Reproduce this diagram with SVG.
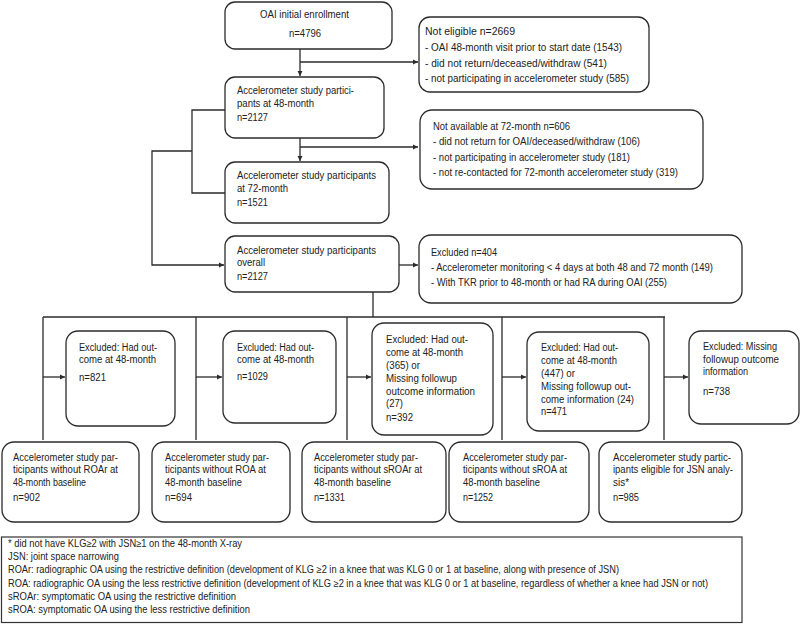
<svg xmlns="http://www.w3.org/2000/svg" width="800" height="625" viewBox="0 0 800 625">
<style>
.box{fill:#fff;stroke:#2b2b2b;stroke-width:1.3}
.t{font-family:"Liberation Sans",Arial,sans-serif;font-size:10px;fill:#222}
.fn{font-family:"Liberation Sans",Arial,sans-serif;font-size:10px;fill:#222}
.c{fill:none;stroke:#2b2b2b;stroke-width:1.3}
</style>
<defs>
<marker id="ah" markerUnits="userSpaceOnUse" markerWidth="6" markerHeight="6" refX="5" refY="3" orient="auto">
<path d="M0,0.5 L5,3 L0,5.5 Z" fill="#2b2b2b"/>
</marker>
</defs>
<rect width="800" height="625" fill="#fff"/>

<g id="connectors">
<path class="c" d="M300,49 V76" marker-end="url(#ah)"/>
<path class="c" d="M300,62 H418" marker-end="url(#ah)"/>
<path class="c" d="M300,138 V161" marker-end="url(#ah)"/>
<path class="c" d="M300,147 H418" marker-end="url(#ah)"/>
<path class="c" d="M225,110 H192 V193 H225"/>
<path class="c" d="M192,151 H152 V265 H224" marker-end="url(#ah)"/>
<path class="c" d="M399,265 H418" marker-end="url(#ah)"/>
<path class="c" d="M373,292 V317"/>
<path class="c" d="M43,317 H665"/>
<path class="c" d="M43,317 V440"/>
<path class="c" d="M196,317 V440"/>
<path class="c" d="M347,317 V440"/>
<path class="c" d="M502,317 V440"/>
<path class="c" d="M664,317 V440"/>
<path class="c" d="M43,377 H65" marker-end="url(#ah)"/>
<path class="c" d="M196,377 H222" marker-end="url(#ah)"/>
<path class="c" d="M347,377 H371" marker-end="url(#ah)"/>
<path class="c" d="M502,377 H526" marker-end="url(#ah)"/>
<path class="c" d="M664,377 H688" marker-end="url(#ah)"/>
</g>

<g id="n-enroll">
<rect class="box" x="225" y="2" width="167" height="47" rx="10"/>
<text class="t" x="260" y="18" textLength="89" lengthAdjust="spacingAndGlyphs">OAI initial enrollment</text>
<text class="t" x="289" y="37" textLength="32" lengthAdjust="spacingAndGlyphs">n=4796</text>
</g>

<g id="n-48">
<rect class="box" x="225" y="77" width="159" height="61" rx="10"/>
<text class="t" x="237" y="94" textLength="117" lengthAdjust="spacingAndGlyphs">Accelerometer study partici-</text>
<text class="t" x="237" y="107" textLength="77" lengthAdjust="spacingAndGlyphs">pants at 48-month</text>
<text class="t" x="237" y="120.5" textLength="31" lengthAdjust="spacingAndGlyphs">n=2127</text>
</g>

<g id="n-72">
<rect class="box" x="225" y="162" width="164" height="61" rx="10"/>
<text class="t" x="237" y="178.5" textLength="139" lengthAdjust="spacingAndGlyphs">Accelerometer study participants</text>
<text class="t" x="237" y="191.5" textLength="51" lengthAdjust="spacingAndGlyphs">at 72-month</text>
<text class="t" x="237" y="205.5" textLength="31" lengthAdjust="spacingAndGlyphs">n=1521</text>
</g>

<g id="n-overall">
<rect class="box" x="225" y="236" width="174" height="56" rx="10"/>
<text class="t" x="237" y="253.5" textLength="139" lengthAdjust="spacingAndGlyphs">Accelerometer study participants</text>
<text class="t" x="237" y="266" textLength="28" lengthAdjust="spacingAndGlyphs">overall</text>
<text class="t" x="237" y="279.5" textLength="31" lengthAdjust="spacingAndGlyphs">n=2127</text>
</g>

<g id="n-noteligible">
<rect class="box" x="419" y="17" width="230" height="75" rx="11"/>
<text class="t" x="425" y="34.5" textLength="90" lengthAdjust="spacingAndGlyphs">Not eligible n=2669</text>
<text class="t" x="425" y="50.5" textLength="197" lengthAdjust="spacingAndGlyphs">- OAI 48-month visit prior to start date (1543)</text>
<text class="t" x="425" y="66.5" textLength="182" lengthAdjust="spacingAndGlyphs">- did not return/deceased/withdraw (541)</text>
<text class="t" x="425" y="81.5" textLength="204" lengthAdjust="spacingAndGlyphs">- not participating in accelerometer study (585)</text>
</g>

<g id="n-notavailable">
<rect class="box" x="420" y="110" width="283" height="79" rx="12"/>
<text class="t" x="433" y="129.5" textLength="137" lengthAdjust="spacingAndGlyphs">Not available at 72-month n=606</text>
<text class="t" x="433" y="144.5" textLength="207" lengthAdjust="spacingAndGlyphs">- did not return for OAI/deceased/withdraw (106)</text>
<text class="t" x="433" y="160.5" textLength="197" lengthAdjust="spacingAndGlyphs">- not participating in accelerometer study (181)</text>
<text class="t" x="433" y="176" textLength="245" lengthAdjust="spacingAndGlyphs">- not re-contacted for 72-month accelerometer study (319)</text>
</g>

<g id="n-excluded404">
<rect class="box" x="419" y="235" width="323" height="68" rx="12"/>
<text class="t" x="431" y="255.5" textLength="66" lengthAdjust="spacingAndGlyphs">Excluded n=404</text>
<text class="t" x="431" y="270.5" textLength="282" lengthAdjust="spacingAndGlyphs">- Accelerometer monitoring &lt; 4 days at both 48 and 72 month (149)</text>
<text class="t" x="431" y="285.5" textLength="236" lengthAdjust="spacingAndGlyphs">- With TKR prior to 48-month or had RA during OAI (255)</text>
</g>

<g id="n-ex1">
<rect class="box" x="66" y="331" width="109" height="95" rx="12"/>
<text class="t" x="79" y="350.5" textLength="78" lengthAdjust="spacingAndGlyphs">Excluded: Had out-</text>
<text class="t" x="79" y="363" textLength="77" lengthAdjust="spacingAndGlyphs">come at 48-month</text>
<text class="t" x="79" y="380.5" textLength="27" lengthAdjust="spacingAndGlyphs">n=821</text>
</g>

<g id="n-ex2">
<rect class="box" x="223" y="331" width="113" height="92" rx="12"/>
<text class="t" x="237" y="350.5" textLength="77" lengthAdjust="spacingAndGlyphs">Excluded: Had out-</text>
<text class="t" x="237" y="363" textLength="77" lengthAdjust="spacingAndGlyphs">come at 48-month</text>
<text class="t" x="237" y="380" textLength="31" lengthAdjust="spacingAndGlyphs">n=1029</text>
</g>

<g id="n-ex3">
<rect class="box" x="372" y="323" width="121" height="112" rx="12"/>
<text class="t" x="386" y="342.5" textLength="82" lengthAdjust="spacingAndGlyphs">Excluded: Had out-</text>
<text class="t" x="386" y="355.5" textLength="77" lengthAdjust="spacingAndGlyphs">come at 48-month</text>
<text class="t" x="386" y="368.5" textLength="34" lengthAdjust="spacingAndGlyphs">(365) or</text>
<text class="t" x="386" y="381.5" textLength="71" lengthAdjust="spacingAndGlyphs">Missing followup</text>
<text class="t" x="386" y="394.5" textLength="89" lengthAdjust="spacingAndGlyphs">outcome information</text>
<text class="t" x="386" y="407" textLength="17" lengthAdjust="spacingAndGlyphs">(27)</text>
<text class="t" x="386" y="420.5" textLength="27" lengthAdjust="spacingAndGlyphs">n=392</text>
</g>

<g id="n-ex4">
<rect class="box" x="527" y="332" width="122" height="99" rx="12"/>
<text class="t" x="541" y="350.5" textLength="77" lengthAdjust="spacingAndGlyphs">Excluded: Had out-</text>
<text class="t" x="541" y="363.5" textLength="76" lengthAdjust="spacingAndGlyphs">come at 48-month</text>
<text class="t" x="541" y="376.5" textLength="34" lengthAdjust="spacingAndGlyphs">(447) or</text>
<text class="t" x="541" y="389.5" textLength="90" lengthAdjust="spacingAndGlyphs">Missing followup out-</text>
<text class="t" x="541" y="402.5" textLength="93" lengthAdjust="spacingAndGlyphs">come information (24)</text>
<text class="t" x="541" y="414.5" textLength="26" lengthAdjust="spacingAndGlyphs">n=471</text>
</g>

<g id="n-ex5">
<rect class="box" x="689" y="331" width="110" height="93" rx="12"/>
<text class="t" x="703" y="349.5" textLength="74" lengthAdjust="spacingAndGlyphs">Excluded: Missing</text>
<text class="t" x="703" y="362.5" textLength="76" lengthAdjust="spacingAndGlyphs">followup outcome</text>
<text class="t" x="703" y="374.5" textLength="45" lengthAdjust="spacingAndGlyphs">information</text>
<text class="t" x="703" y="394.5" textLength="27" lengthAdjust="spacingAndGlyphs">n=738</text>
</g>

<g id="n-b1">
<rect class="box" x="2" y="442" width="137" height="80" rx="12"/>
<text class="t" x="13" y="460.5" textLength="105" lengthAdjust="spacingAndGlyphs">Accelerometer study par-</text>
<text class="t" x="13" y="473" textLength="105" lengthAdjust="spacingAndGlyphs">ticipants without ROAr at</text>
<text class="t" x="13" y="485.5" textLength="73" lengthAdjust="spacingAndGlyphs">48-month baseline</text>
<text class="t" x="13" y="500.5" textLength="27" lengthAdjust="spacingAndGlyphs">n=902</text>
</g>

<g id="n-b2">
<rect class="box" x="152" y="442" width="138" height="80" rx="12"/>
<text class="t" x="165" y="460.5" textLength="104" lengthAdjust="spacingAndGlyphs">Accelerometer study par-</text>
<text class="t" x="165" y="473" textLength="101" lengthAdjust="spacingAndGlyphs">ticipants without ROA at</text>
<text class="t" x="165" y="485.5" textLength="77" lengthAdjust="spacingAndGlyphs">48-month baseline</text>
<text class="t" x="165" y="500.5" textLength="27" lengthAdjust="spacingAndGlyphs">n=694</text>
</g>

<g id="n-b3">
<rect class="box" x="302" y="442" width="144" height="80" rx="12"/>
<text class="t" x="314" y="460.5" textLength="104" lengthAdjust="spacingAndGlyphs">Accelerometer study par-</text>
<text class="t" x="314" y="473" textLength="108" lengthAdjust="spacingAndGlyphs">ticipants without sROAr at</text>
<text class="t" x="314" y="485.5" textLength="77" lengthAdjust="spacingAndGlyphs">48-month baseline</text>
<text class="t" x="314" y="500.5" textLength="31" lengthAdjust="spacingAndGlyphs">n=1331</text>
</g>

<g id="n-b4">
<rect class="box" x="449" y="442" width="140" height="80" rx="12"/>
<text class="t" x="463" y="460.5" textLength="104" lengthAdjust="spacingAndGlyphs">Accelerometer study par-</text>
<text class="t" x="463" y="473" textLength="104" lengthAdjust="spacingAndGlyphs">ticipants without sROA at</text>
<text class="t" x="463" y="485.5" textLength="77" lengthAdjust="spacingAndGlyphs">48-month baseline</text>
<text class="t" x="463" y="500.5" textLength="30" lengthAdjust="spacingAndGlyphs">n=1252</text>
</g>

<g id="n-b5">
<rect class="box" x="599" y="442" width="143" height="80" rx="12"/>
<text class="t" x="613" y="460.5" textLength="118" lengthAdjust="spacingAndGlyphs">Accelerometer study partic-</text>
<text class="t" x="613" y="473" textLength="120" lengthAdjust="spacingAndGlyphs">ipants eligible for JSN analy-</text>
<text class="t" x="613" y="485.5" textLength="16" lengthAdjust="spacingAndGlyphs">sis*</text>
<text class="t" x="613" y="500.5" textLength="26" lengthAdjust="spacingAndGlyphs">n=985</text>
</g>

<g id="footnote">
<rect x="1.5" y="537" width="740.5" height="85.5" fill="#fff" stroke="#333" stroke-width="1.2"/>
<text class="fn" x="8" y="547" textLength="234" lengthAdjust="spacingAndGlyphs">* did not have KLG≥2 with JSN≥1 on the 48-month X-ray</text>
<text class="fn" x="8" y="560" textLength="111" lengthAdjust="spacingAndGlyphs">JSN: joint space narrowing</text>
<text class="fn" x="8" y="573" textLength="611" lengthAdjust="spacingAndGlyphs">ROAr: radiographic OA using the restrictive definition (development of KLG ≥2 in a knee that was KLG 0 or 1 at baseline, along with presence of JSN)</text>
<text class="fn" x="8" y="586.5" textLength="700" lengthAdjust="spacingAndGlyphs">ROA: radiographic OA using the less restrictive definition (development of KLG ≥2 in a knee that was KLG 0 or 1 at baseline, regardless of whether a knee had JSN or not)</text>
<text class="fn" x="8" y="599.5" textLength="228" lengthAdjust="spacingAndGlyphs">sROAr: symptomatic OA using the restrictive definition</text>
<text class="fn" x="8" y="612.5" textLength="242" lengthAdjust="spacingAndGlyphs">sROA: symptomatic OA using the less restrictive definition</text>
</g>
</svg>
